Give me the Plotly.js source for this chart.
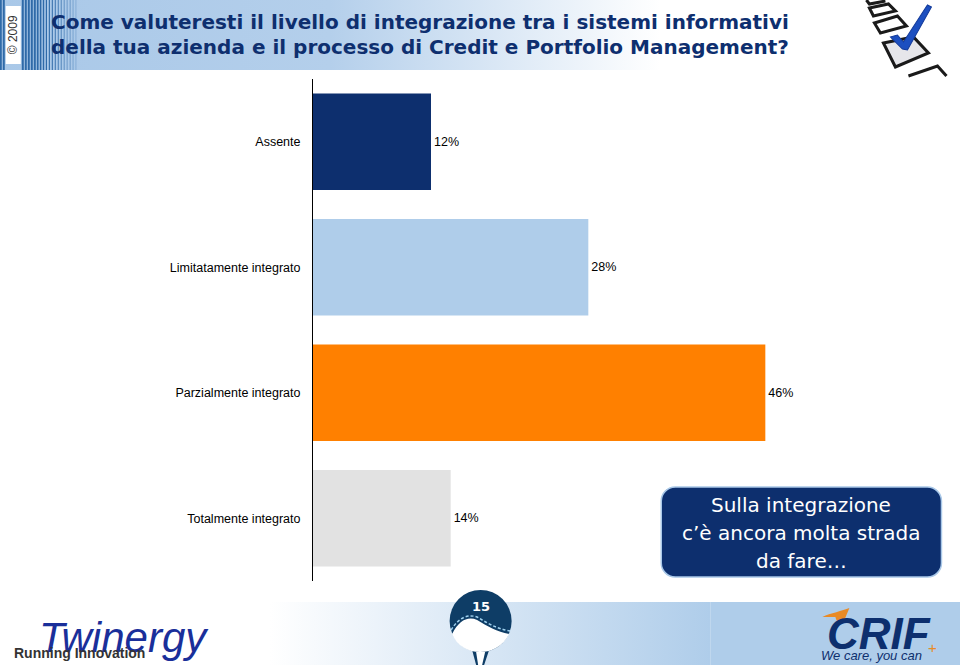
<!DOCTYPE html>
<html><head><meta charset="utf-8">
<script src="https://cdn.plot.ly/plotly-3.0.1.min.js"></script>
<style>html,body{margin:0;padding:0;background:#fff;overflow:hidden}#c{width:960px;height:665px}</style>
</head><body><div id="c"></div>
<script>
var categories = ["Assente","Limitatamente integrato","Parzialmente integrato","Totalmente integrato"];
var values = [12,28,46,14];
var barColors = ["#0d2f6e","#afcdea","#ff8000","#e2e2e2"];
var titleLines = ["Come valuteresti il livello di integrazione tra i sistemi informativi","della tua azienda e il processo di Credit e Portfolio Management?"];
var calloutLines = ["Sulla integrazione","c’è ancora molta strada","da fare…"];

var W=960,H=665,L=313,T=79,B=581,pxPerUnit=9.826,xMax=60;
var plotW=pxPerUnit*xMax, plotH=B-T;
function px(x){return (x-L)/plotW;}
function py(y){return (B-y)/plotH;}

var stripes='';
[[0,2],[3,2],[22,2],[25,2],[28,2],[31,2],[34,2],[37,1.8],[40,1.6],[43,1.4],[46,1.2],[49,1.1],[52,1],[55,.9],[58,.8],[61,.7],[64,.6],[67,.5],[70,.5],[73,.4],[76,.3]].forEach(function(s){
  stripes+='<rect x="'+s[0]+'" y="0" width="'+s[1]+'" height="70" fill="#2f6aa8"/>';
});
var decor='<svg xmlns="http://www.w3.org/2000/svg" width="960" height="665" viewBox="0 0 960 665">'+
 '<defs><linearGradient id="h" x1="0" x2="1" y1="0" y2="0"><stop offset="0" stop-color="#a9c8e8"/><stop offset="0.5" stop-color="#b4cfeb"/><stop offset="1" stop-color="#ffffff"/></linearGradient>'+
 '<linearGradient id="f" x1="0" x2="1" y1="0" y2="0"><stop offset="0" stop-color="#ffffff"/><stop offset="1" stop-color="#afcdea"/></linearGradient></defs>'+
 '<rect x="0" y="0" width="660" height="70" fill="url(#h)"/>'+stripes+
 '<rect x="6" y="6" width="15" height="58" fill="#fff"/>'+
 '<rect x="270" y="602" width="440" height="63" fill="url(#f)"/><rect x="710" y="602" width="250" height="63" fill="#afcdea"/>'+
 // checklist
 '<g fill="none" stroke="#1a1a1a" stroke-width="3" stroke-linejoin="miter">'+
 '<path d="M866 0L869 4L885 1"/><path d="M869 8L888 4L895 11L873 16Z"/><path d="M874 23L897 16L906 26L880 33Z"/>'+
 '<path d="M883 43L913 37L928 53L895 67Z" fill="#e6e6ea"/><path d="M908 76L937 66L946 76"/></g>'+
 '<path d="M890 37L897 35L903 42L927 5L931 7L907 50L902 49Z" fill="#1c4fc0" stroke="#133a9a" stroke-width="1"/>'+
 // tee
 '<path d="M472 650L489 650L484 665L476 665Z" fill="#0e3d66"/><path d="M476 652L485 652L482 665L478 665Z" fill="#fff"/>'+
 '<circle cx="480.500" cy="621" r="31" fill="#0e3d66"/>'+
 '<path d="M452 634C459 620 468 616 477 620C487 626 497 632 509 634C503 646 492 652 480 652C468 652 457 646 452 634Z" fill="#fff"/>'+
 '<path d="M451 630C459 617 468 614 477 617C487 623 497 629 510 631" fill="none" stroke="#9fd0ee" stroke-width="1.500" stroke-dasharray="3 2"/>'+
 // crif swoosh
 '<path d="M822 617C830 613 842 611 849 608L844 620C841 624 836 623 835 617Z" fill="#e98a25"/>'+
 // callout
 '<rect x="661" y="487" width="280" height="90" rx="14" ry="14" fill="#0d2f6e" stroke="#a9c8e8" stroke-width="1.500"/>'+
 '</svg>';

var annotations=[];
function addText(t,x,y,size,color,family,anchor,extra){
  var a={text:t,xref:'paper',yref:'paper',x:px(x),y:py(y),xanchor:anchor||'left',yanchor:'middle',showarrow:false,
    font:{size:size,color:color,family:family},borderpad:0};
  if(extra) for(var k in extra) a[k]=extra[k];
  annotations.push(a);
}
var verdana='DejaVu Sans', arial='Liberation Sans';
addText('<b>'+titleLines[0]+'</b>',50,22,20,'#0e2f6f',verdana);
addText('<b>'+titleLines[1]+'</b>',50,47,20,'#0e2f6f',verdana);
addText('© 2009',13.500,35,12,'#333333',arial,'center',{textangle:-90});
[505,533,561].forEach(function(y,i){addText(calloutLines[i],801,y,20,'#ffffff',verdana,'center');});
addText('<b>15</b>',480.500,606,13,'#ffffff',verdana,'center');
addText('<i>Twinergy</i>',38,637,42,'#1a2f9a',arial);
addText('<b>Running Innovation</b>',13,653,14,'#333333',arial);
addText('<b><i>CRIF</i></b>',826,633,44,'#0d2f6e',arial);
addText('<i>We care, you can</i>',820,655,13,'#0d2f6e',arial);
addText('+',927,648,15,'#e98a25',arial);

var trace={type:'bar',orientation:'h',y:categories,x:values,
  marker:{color:barColors,line:{width:0}},width:0.77,
  text:values.map(function(v){return v+'%';}),textposition:'outside',cliponaxis:false,
  textfont:{family:arial,size:12.500,color:'#000'},hoverinfo:'skip'};
var layout={width:W,height:H,autosize:false,showlegend:false,
  margin:{l:L,r:W-L-plotW,t:T,b:H-B,pad:0},
  paper_bgcolor:'#fff',plot_bgcolor:'rgba(0,0,0,0)',
  xaxis:{range:[0,xMax],visible:false,fixedrange:true},
  yaxis:{type:'category',autorange:false,range:[3.5,-0.5],showline:true,linecolor:'#000',linewidth:1,
    ticks:'',ticklabelstandoff:9,showgrid:false,zeroline:false,fixedrange:true,
    tickfont:{family:arial,size:12.500,color:'#000'}},
  images:[{source:'data:image/svg+xml;charset=utf-8,'+encodeURIComponent(decor),xref:'paper',yref:'paper',
    x:px(0),y:py(0),sizex:W/plotW,sizey:H/plotH,sizing:'stretch',xanchor:'left',yanchor:'top',layer:'below'}],
  annotations:annotations};
Plotly.newPlot('c',[trace],layout,{displayModeBar:false,staticPlot:true});
</script></body></html>
